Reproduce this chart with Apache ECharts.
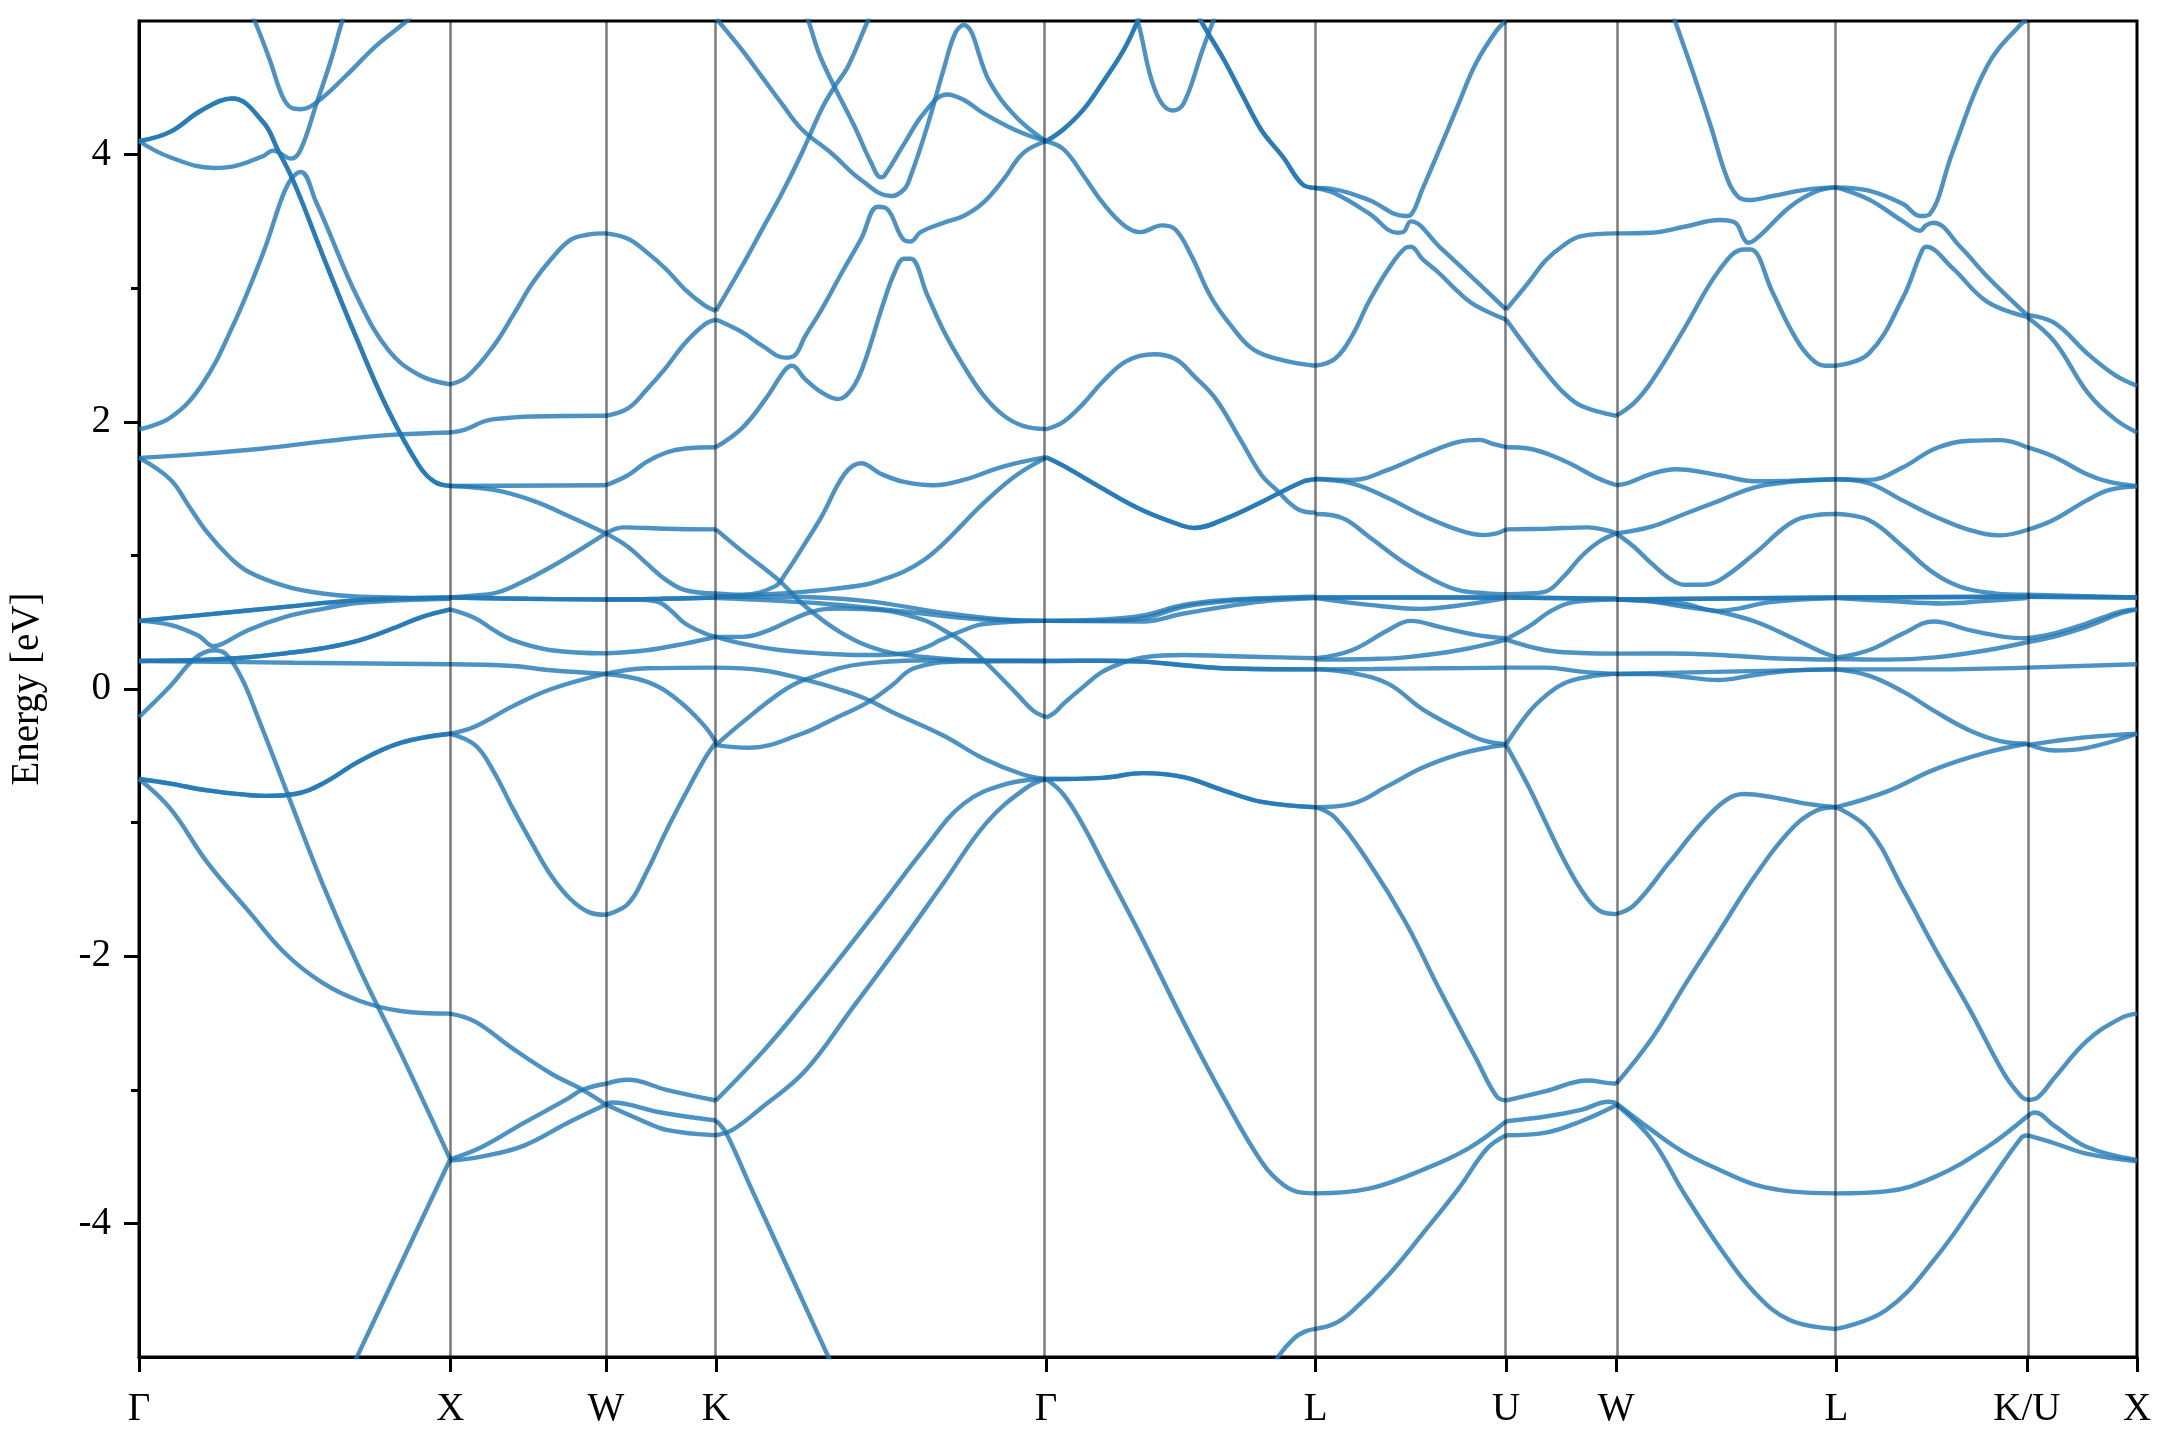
<!DOCTYPE html>
<html><head><meta charset="utf-8">
<script src="https://cdn.jsdelivr.net/npm/echarts@6/dist/echarts.min.js"></script>
<style>html,body{margin:0;padding:0;background:#fff}#c{width:2160px;height:1440px}</style>
</head><body><div id="c"></div>
<script>
// k-path high-symmetry positions (units of 2π/a) and labels
const kTicks = [0, 1, 1.5, 1.8536, 2.9142, 3.7802, 4.3926, 4.7462, 5.4533, 6.0657, 6.4193];
const kLabels = ['Γ','X','W','K','Γ','L','U','W','L','K/U','X'];
const yMajor = [-4, -2, 0, 2, 4];
const yMinor = [-3, -1, 1, 3];

// Each band: optional multiplicity, then [fraction along segment, energy eV]
const segGX = [
 [2,[0,4.1],[0.1,4.17],[0.2,4.33],[0.3,4.42],[0.4,4.24],[0.445,4.04],[0.5,3.78],[0.6,3.19],[0.7,2.62],[0.8,2.09],[0.9,1.67],[0.95,1.55],[1,1.52]],
 [[0,1.944],[0.1,2.03],[0.2,2.27],[0.3,2.71],[0.4,3.27],[0.46,3.68],[0.49,3.82],[0.52,3.87],[0.57,3.64],[0.6,3.48],[0.7,2.94],[0.8,2.54],[0.9,2.35],[1,2.28]],
 [[0,4.1],[0.1,3.98],[0.24,3.9],[0.3,3.91],[0.4,3.99],[0.43,4.03],[0.49,3.97],[0.52,4.04],[0.57,4.38],[0.617,4.71],[0.653,5.0],[0.67,5.1]],
 [[0.36,5.05],[0.372,5.0],[0.42,4.71],[0.46,4.44],[0.49,4.35],[0.52,4.34],[0.57,4.39],[0.665,4.59],[0.76,4.81],[0.86,5.0],[0.88,5.05]],
 [[0,1.73],[0.2,1.76],[0.4,1.8],[0.6,1.855],[0.8,1.9],[1,1.92]],
 [[0,1.73],[0.1,1.57],[0.16,1.37],[0.22,1.17],[0.29,0.99],[0.35,0.88],[0.47,0.77],[0.59,0.715],[0.71,0.69],[1,0.68]],
 [2,[0,0.51],[0.23,0.56],[0.47,0.615],[0.71,0.665],[1,0.685]],
 [[0,0.51],[0.1,0.48],[0.19,0.4],[0.24,0.32],[0.27,0.34],[0.35,0.44],[0.47,0.54],[0.59,0.6],[0.71,0.645],[1,0.675]],
 [2,[0,0.21],[0.22,0.22],[0.35,0.237],[0.47,0.267],[0.59,0.305],[0.71,0.366],[0.83,0.466],[0.91,0.54],[1,0.596]],
 [[0,0.21],[0.5,0.197],[1,0.185]],
 [[0,-0.21],[0.1,0.02],[0.18,0.23],[0.24,0.29],[0.28,0.26],[0.33,0.08],[0.38,-0.2],[0.47,-0.74],[0.59,-1.46],[0.71,-2.1],[0.84,-2.72],[1,-3.52]],
 [2,[0,-0.674],[0.1,-0.708],[0.22,-0.759],[0.35,-0.793],[0.41,-0.8],[0.5,-0.786],[0.59,-0.708],[0.71,-0.538],[0.84,-0.403],[1,-0.335]],
 [[0,-0.674],[0.1,-0.894],[0.22,-1.3],[0.35,-1.657],[0.47,-1.98],[0.59,-2.2],[0.71,-2.335],[0.84,-2.41],[1,-2.43]],
 [[0.68,-5.1],[1,-3.52]]
];
const segXW = [
 [[0,2.28],[0.11,2.34],[0.28,2.57],[0.41,2.81],[0.53,3.04],[0.65,3.22],[0.77,3.36],[0.88,3.4],[1,3.41]],
 [[0,1.92],[0.09,1.94],[0.21,2.0],[0.28,2.02],[0.53,2.04],[1,2.045]],
 [[0,1.52],[1,1.525]],
 [[0,1.52],[0.28,1.49],[0.53,1.41],[0.77,1.29],[1,1.165]],
 [[0,0.685],[0.16,0.7],[0.28,0.716],[0.4,0.766],[0.65,0.915],[1,1.165]],
 [2,[0,0.685],[0.5,0.675],[1,0.67]],
 [[0,0.596],[0.16,0.53],[0.28,0.44],[0.4,0.366],[0.65,0.29],[1,0.267]],
 [[0,0.185],[0.4,0.172],[0.65,0.14],[1,0.112]],
 [[0,-0.335],[0.16,-0.28],[0.4,-0.13],[0.65,0.0],[1,0.115]],
 [[0,-0.335],[0.16,-0.42],[0.28,-0.62],[0.4,-0.89],[0.53,-1.165],[0.65,-1.4],[0.77,-1.57],[0.89,-1.67],[1,-1.69]],
 [[0,-2.43],[0.16,-2.49],[0.4,-2.69],[0.65,-2.88],[0.85,-3.0],[1,-3.11]],
 [[0,-3.52],[0.2,-3.43],[0.47,-3.25],[0.75,-3.07],[0.85,-3.0],[1,-2.955]],
 [[0,-3.53],[0.2,-3.5],[0.47,-3.42],[0.75,-3.25],[1,-3.11]]
];
const segWK = [
 [[0,3.41],[0.2,3.37],[0.37,3.27],[0.55,3.14],[0.72,2.99],[0.9,2.87],[1,2.83]],
 [[0,2.045],[0.2,2.1],[0.37,2.24],[0.55,2.41],[0.72,2.59],[0.9,2.73],[1,2.765]],
 [[0,1.525],[0.2,1.6],[0.37,1.7],[0.55,1.77],[0.72,1.8],[1,1.81]],
 [[0,1.165],[0.2,1.065],[0.37,0.94],[0.55,0.815],[0.72,0.74],[1,0.715]],
 [[0,1.165],[0.16,1.21],[0.55,1.2],[1,1.195]],
 [2,[0,0.67],[0.5,0.675],[1,0.685]],
 [[0,0.67],[0.3,0.668],[0.48,0.65],[0.6,0.58],[0.72,0.49],[0.9,0.416],[1,0.39]],
 [[0,0.267],[0.37,0.29],[0.72,0.34],[1,0.39]],
 [[0,0.112],[0.37,0.055],[0.65,-0.08],[0.9,-0.28],[1,-0.4]],
 [[0,0.115],[0.37,0.155],[1,0.16]],
 [[0,-1.69],[0.2,-1.61],[0.37,-1.37],[0.55,-1.06],[0.72,-0.79],[0.9,-0.52],[1,-0.4]],
 [[0,-2.955],[0.2,-2.925],[0.55,-3.0],[1,-3.08]],
 [[0,-3.11],[0.05,-3.095],[0.5,-3.17],[1,-3.23]],
 [[0,-3.11],[0.3,-3.22],[0.55,-3.3],[1,-3.34]]
];
const segKG = [
 [[0,5.02],[0.08,4.78],[0.14,4.58],[0.2,4.38],[0.26,4.19],[0.35,4.01],[0.44,3.81],[0.53,3.69],[0.57,3.74],[0.59,3.84],[0.64,4.21],[0.69,4.64],[0.725,4.91],[0.75,4.97],[0.83,4.54],[0.91,4.28],[1,4.1]],
 [[0,2.83],[0.08,3.17],[0.14,3.44],[0.2,3.71],[0.26,4.01],[0.32,4.34],[0.36,4.51],[0.4,4.66],[0.46,5.0],[0.48,5.1]],
 [[0.27,5.05],[0.28,5.0],[0.32,4.71],[0.42,4.21],[0.47,3.94],[0.5,3.83],[0.51,3.84],[0.57,4.08],[0.63,4.31],[0.7,4.45],[0.75,4.41],[0.81,4.31],[0.91,4.18],[1,4.1]],
 [[0,2.765],[0.08,2.67],[0.14,2.57],[0.21,2.48],[0.24,2.5],[0.27,2.64],[0.32,2.84],[0.38,3.11],[0.44,3.37],[0.49,3.61],[0.52,3.59],[0.57,3.36],[0.59,3.35],[0.62,3.42],[0.69,3.49],[0.75,3.54],[0.81,3.64],[0.87,3.81],[0.93,4.01],[1,4.1]],
 [[0,1.81],[0.08,1.955],[0.15,2.17],[0.21,2.39],[0.23,2.42],[0.27,2.32],[0.32,2.22],[0.37,2.17],[0.41,2.24],[0.445,2.41],[0.505,2.87],[0.54,3.11],[0.57,3.22],[0.59,3.22],[0.64,2.95],[0.69,2.68],[0.75,2.42],[0.81,2.2],[0.87,2.05],[0.93,1.97],[1,1.945]],
 [[0,0.715],[0.08,0.705],[0.18,0.77],[0.21,0.86],[0.27,1.09],[0.32,1.29],[0.39,1.61],[0.44,1.69],[0.5,1.61],[0.57,1.55],[0.66,1.525],[0.75,1.565],[0.87,1.665],[1,1.735]],
 [[0,0.69],[0.2,0.716],[0.32,0.74],[0.45,0.78],[0.5,0.815],[0.57,0.88],[0.63,0.965],[0.69,1.09],[0.75,1.24],[0.81,1.39],[0.91,1.6],[1,1.73]],
 [[0,1.195],[0.08,1.03],[0.19,0.815],[0.27,0.62],[0.38,0.42],[0.5,0.29],[0.63,0.24],[0.81,0.212],[1,0.21]],
 [[0,0.69],[0.2,0.69],[0.45,0.66],[0.69,0.57],[0.87,0.52],[1,0.51]],
 [[0,0.68],[0.32,0.64],[0.57,0.58],[0.81,0.52],[1,0.51]],
 [[0,0.39],[0.08,0.39],[0.15,0.43],[0.29,0.578],[0.38,0.603],[0.5,0.59],[0.63,0.516],[0.69,0.44],[0.74,0.366],[0.81,0.217],[0.91,-0.033],[0.96,-0.16],[1,-0.21]],
 [[0,0.39],[0.08,0.34],[0.2,0.29],[0.32,0.266],[0.45,0.254],[0.57,0.266],[0.64,0.316],[0.68,0.366],[0.75,0.44],[0.81,0.486],[1,0.51]],
 [[0,-0.42],[0.08,-0.25],[0.2,-0.02],[0.27,0.07],[0.45,0.19],[0.69,0.215],[1,0.21]],
 [[0,-0.42],[0.1,-0.44],[0.26,-0.335],[0.36,-0.22],[0.46,-0.1],[0.53,0.02],[0.6,0.155],[0.74,0.205],[1,0.21]],
 [[0,0.16],[0.14,0.14],[0.27,0.07],[0.37,0.0],[0.45,-0.07],[0.54,-0.18],[0.69,-0.35],[0.81,-0.52],[0.93,-0.64],[1,-0.674]],
 [[0,-3.08],[0.14,-2.72],[0.26,-2.37],[0.38,-2.0],[0.5,-1.62],[0.63,-1.2],[0.75,-0.86],[0.88,-0.71],[1,-0.675]],
 [[0,-3.34],[0.05,-3.3],[0.14,-3.13],[0.27,-2.86],[0.41,-2.4],[0.56,-1.9],[0.69,-1.45],[0.82,-1.0],[0.94,-0.74],[1,-0.675]],
 [[0,-3.23],[0.03,-3.32],[0.1,-3.7],[0.2,-4.24],[0.3,-4.78],[0.35,-5.05]]
];
const segGL = [
 [2,[0,4.1],[0.065,4.19],[0.14,4.34],[0.21,4.54],[0.29,4.79],[0.34,5.0],[0.36,5.1]],
 [[0.32,5.08],[0.34,5.0],[0.405,4.48],[0.47,4.33],[0.51,4.38],[0.58,4.78],[0.61,4.945],[0.63,5.05]],
 [2,[0.56,5.08],[0.575,5.0],[0.66,4.71],[0.73,4.44],[0.8,4.18],[0.88,3.98],[0.95,3.78],[1,3.75]],
 [[0,4.1],[0.065,4.04],[0.14,3.84],[0.21,3.64],[0.29,3.47],[0.35,3.42],[0.43,3.47],[0.48,3.44],[0.54,3.24],[0.61,2.94],[0.69,2.71],[0.77,2.54],[0.88,2.46],[1,2.42]],
 [[0,1.944],[0.065,2.0],[0.14,2.14],[0.21,2.3],[0.3,2.456],[0.4,2.506],[0.48,2.47],[0.55,2.34],[0.63,2.17],[0.72,1.87],[0.8,1.6],[0.85,1.5],[0.94,1.34],[1,1.32]],
 [2,[0,1.735],[0.065,1.67],[0.21,1.5],[0.36,1.336],[0.51,1.22],[0.55,1.205],[0.66,1.27],[0.8,1.4],[0.95,1.55],[1,1.57]],
 [[0,0.51],[0.21,0.51],[0.36,0.53],[0.51,0.615],[0.66,0.655],[0.8,0.675],[1,0.685]],
 [[0,0.51],[0.36,0.505],[0.51,0.565],[0.66,0.615],[0.8,0.655],[1,0.68]],
 [[0,0.51],[0.21,0.52],[0.36,0.55],[0.51,0.63],[0.66,0.665],[1,0.69]],
 [[0,-0.215],[0.03,-0.18],[0.065,-0.11],[0.14,0.02],[0.21,0.13],[0.29,0.2],[0.36,0.237],[0.51,0.254],[0.66,0.247],[0.8,0.24],[1,0.23]],
 [2,[0,0.21],[0.2,0.212],[0.36,0.205],[0.5,0.18],[0.66,0.155],[1,0.147]],
 [2,[0,-0.674],[0.21,-0.665],[0.36,-0.63],[0.51,-0.66],[0.66,-0.76],[0.8,-0.845],[1,-0.885]],
 [[0,-0.674],[0.065,-0.79],[0.14,-1.03],[0.21,-1.3],[0.36,-1.88],[0.51,-2.49],[0.66,-3.06],[0.8,-3.54],[0.88,-3.71],[0.95,-3.77],[1,-3.775]],
 [[0.85,-5.06],[0.86,-5.0],[0.92,-4.86],[0.96,-4.81],[1,-4.79]]
];
const segLU = [
 [[0,3.75],[0.1,3.74],[0.28,3.66],[0.47,3.54],[0.5,3.55],[0.56,3.74],[0.65,4.04],[0.75,4.38],[0.84,4.68],[0.95,4.93],[1,5.0]],
 [[0,3.75],[0.1,3.71],[0.28,3.56],[0.43,3.415],[0.46,3.42],[0.5,3.5],[0.65,3.31],[0.8,3.11],[1,2.84]],
 [[0,2.42],[0.1,2.47],[0.19,2.64],[0.28,2.9],[0.38,3.14],[0.47,3.3],[0.5,3.31],[0.56,3.22],[0.65,3.11],[0.75,2.97],[0.84,2.87],[1,2.765]],
 [[0,1.575],[0.19,1.565],[0.38,1.64],[0.56,1.75],[0.75,1.85],[0.86,1.865],[0.93,1.835],[1,1.81]],
 [[0,1.57],[0.19,1.54],[0.38,1.43],[0.56,1.3],[0.75,1.19],[0.88,1.152],[0.95,1.165],[1,1.195]],
 [[0,1.31],[0.14,1.28],[0.28,1.14],[0.47,0.94],[0.62,0.815],[0.75,0.74],[0.9,0.716],[1,0.71]],
 [2,[0,0.685],[1,0.685]],
 [[0,0.68],[0.28,0.63],[0.55,0.6],[0.75,0.625],[1,0.68]],
 [[0,0.23],[0.19,0.29],[0.38,0.44],[0.5,0.51],[0.65,0.465],[0.84,0.405],[1,0.38]],
 [[0,0.22],[0.3,0.225],[0.47,0.237],[0.75,0.29],[1,0.37]],
 [[0,0.147],[0.3,0.15],[0.65,0.155],[1,0.16]],
 [[0,0.15],[0.19,0.12],[0.38,0.04],[0.56,-0.15],[0.75,-0.3],[0.88,-0.385],[1,-0.413]],
 [[0,-0.885],[0.19,-0.86],[0.38,-0.725],[0.56,-0.59],[0.75,-0.49],[0.91,-0.437],[1,-0.42]],
 [[0,-0.885],[0.1,-0.96],[0.28,-1.3],[0.47,-1.74],[0.65,-2.25],[0.84,-2.76],[0.95,-3.05],[1,-3.08]],
 [[0,-3.775],[0.28,-3.74],[0.56,-3.6],[0.8,-3.44],[1,-3.235]],
 [[0,-4.79],[0.1,-4.75],[0.19,-4.66],[0.38,-4.39],[0.56,-4.08],[0.75,-3.74],[0.9,-3.44],[1,-3.34]]
];
const segUW = [
 [[0,2.84],[0.2,3.04],[0.36,3.21],[0.52,3.32],[0.68,3.39],[1,3.41]],
 [[0,2.765],[0.2,2.54],[0.36,2.37],[0.52,2.22],[0.68,2.12],[1,2.045]],
 [[0,1.81],[0.2,1.8],[0.52,1.71],[0.84,1.575],[1,1.525]],
 [[0,1.195],[0.36,1.2],[0.74,1.21],[0.9,1.19],[1,1.165]],
 [[0,0.71],[0.2,0.715],[0.36,0.73],[0.52,0.84],[0.68,0.99],[0.84,1.1],[1,1.165]],
 [2,[0,0.685],[1,0.675]],
 [[0,0.375],[0.2,0.465],[0.42,0.59],[0.61,0.65],[1,0.67]],
 [[0,0.37],[0.36,0.29],[0.68,0.27],[1,0.265]],
 [[0,0.16],[0.36,0.16],[0.68,0.13],[1,0.112]],
 [[0,-0.413],[0.2,-0.18],[0.36,-0.05],[0.52,0.04],[0.74,0.09],[1,0.115]],
 [[0,-0.42],[0.2,-0.725],[0.36,-1.0],[0.52,-1.27],[0.68,-1.5],[0.84,-1.655],[1,-1.685]],
 [[0,-3.08],[0.36,-3.01],[0.74,-2.93],[0.93,-2.95],[1,-2.955]],
 [[0,-3.235],[0.36,-3.2],[0.68,-3.15],[0.93,-3.09],[1,-3.1]],
 [[0,-3.34],[0.36,-3.32],[0.68,-3.235],[1,-3.115]]
];
const segWL = [
 [[0.255,5.05],[0.267,5.0],[0.35,4.61],[0.43,4.21],[0.5,3.84],[0.55,3.69],[0.6,3.66],[0.71,3.69],[0.87,3.74],[1,3.755]],
 [[0,3.41],[0.16,3.415],[0.31,3.46],[0.47,3.51],[0.54,3.49],[0.58,3.37],[0.6,3.34],[0.65,3.39],[0.79,3.61],[0.91,3.725],[1,3.755]],
 [[0,2.045],[0.08,2.14],[0.16,2.3],[0.31,2.7],[0.47,3.14],[0.58,3.29],[0.61,3.29],[0.71,2.97],[0.79,2.7],[0.87,2.5],[0.95,2.42],[1,2.42]],
 [[0,1.525],[0.05,1.54],[0.16,1.61],[0.27,1.645],[0.47,1.6],[0.63,1.555],[0.79,1.56],[1,1.57]],
 [[0,1.165],[0.16,1.215],[0.31,1.31],[0.47,1.41],[0.63,1.51],[0.79,1.55],[1,1.57]],
 [[0,1.165],[0.08,1.065],[0.16,0.94],[0.24,0.83],[0.31,0.78],[0.39,0.78],[0.47,0.815],[0.63,1.015],[0.79,1.24],[0.9,1.3],[1,1.31]],
 [2,[0,0.67],[1,0.685]],
 [[0,0.67],[0.16,0.655],[0.31,0.615],[0.46,0.58],[0.63,0.505],[0.79,0.39],[0.95,0.265],[1,0.24]],
 [[0,0.67],[0.3,0.64],[0.46,0.585],[0.55,0.6],[0.7,0.65],[1,0.68]],
 [[0,0.265],[0.24,0.266],[0.47,0.255],[0.71,0.23],[1,0.22]],
 [[0,0.112],[0.16,0.112],[0.31,0.09],[0.46,0.067],[0.63,0.105],[0.79,0.137],[1,0.147]],
 [[0,0.112],[0.5,0.13],[1,0.147]],
 [[0,-1.685],[0.08,-1.62],[0.24,-1.3],[0.39,-1.0],[0.5,-0.83],[0.58,-0.786],[0.71,-0.81],[0.87,-0.86],[1,-0.885]],
 [[0,-2.955],[0.16,-2.62],[0.31,-2.22],[0.47,-1.81],[0.63,-1.4],[0.79,-1.06],[0.91,-0.91],[1,-0.885]],
 [[0,-3.1],[0.16,-3.3],[0.31,-3.47],[0.47,-3.6],[0.63,-3.71],[0.79,-3.76],[1,-3.775]],
 [[0,-3.11],[0.16,-3.37],[0.31,-3.78],[0.47,-4.18],[0.63,-4.52],[0.79,-4.725],[1,-4.79]]
];
const segLK = [
 [[0,3.755],[0.17,3.73],[0.35,3.63],[0.44,3.54],[0.49,3.555],[0.61,4.02],[0.79,4.66],[0.97,4.98],[1,5.0]],
 [[0,3.755],[0.17,3.665],[0.35,3.5],[0.44,3.43],[0.47,3.47],[0.51,3.49],[0.65,3.31],[0.79,3.09],[1,2.8]],
 [[0,2.42],[0.17,2.51],[0.35,2.93],[0.44,3.25],[0.47,3.31],[0.61,3.15],[0.79,2.9],[1,2.785]],
 [[0,1.57],[0.17,1.565],[0.35,1.66],[0.52,1.8],[0.7,1.858],[0.86,1.863],[1,1.81]],
 [[0,1.57],[0.17,1.54],[0.35,1.41],[0.52,1.29],[0.7,1.19],[0.86,1.15],[1,1.19]],
 [[0,1.31],[0.17,1.265],[0.35,1.065],[0.49,0.89],[0.65,0.765],[0.83,0.716],[1,0.705]],
 [2,[0,0.685],[1,0.69]],
 [[0,0.68],[0.26,0.66],[0.56,0.64],[0.79,0.66],[1,0.68]],
 [[0,0.235],[0.17,0.29],[0.35,0.415],[0.51,0.505],[0.7,0.44],[0.88,0.39],[1,0.38]],
 [[0,0.225],[0.26,0.22],[0.52,0.237],[0.79,0.29],[1,0.35]],
 [[0,0.147],[0.5,0.147],[1,0.16]],
 [[0,0.147],[0.17,0.1],[0.35,-0.02],[0.52,-0.17],[0.7,-0.31],[0.86,-0.39],[1,-0.41]],
 [[0,-0.885],[0.26,-0.77],[0.52,-0.6],[0.79,-0.475],[1,-0.41]],
 [[0,-0.885],[0.17,-1.05],[0.35,-1.5],[0.52,-1.95],[0.7,-2.4],[0.88,-2.88],[0.97,-3.05],[1,-3.075]],
 [[0,-3.775],[0.26,-3.76],[0.52,-3.65],[0.79,-3.43],[1,-3.2]],
 [[0,-4.79],[0.26,-4.65],[0.52,-4.26],[0.79,-3.72],[0.97,-3.36],[1,-3.34]]
];
const segKX = [
 [[0,2.8],[0.25,2.74],[0.55,2.51],[0.8,2.35],[1,2.27]],
 [[0,2.785],[0.25,2.6],[0.55,2.22],[0.8,2.02],[1,1.92]],
 [[0,1.81],[0.24,1.74],[0.54,1.61],[0.75,1.55],[1,1.52]],
 [[0,1.19],[0.24,1.265],[0.54,1.41],[0.75,1.49],[1,1.515]],
 [[0,0.705],[1,0.685]],
 [2,[0,0.69],[1,0.685]],
 [[0,0.38],[0.24,0.415],[0.54,0.49],[0.85,0.58],[1,0.596]],
 [[0,0.35],[0.24,0.39],[0.54,0.465],[0.85,0.565],[1,0.596]],
 [[0,0.16],[1,0.185]],
 [[0,-0.41],[0.25,-0.46],[0.55,-0.44],[1,-0.335]],
 [[0,-0.42],[0.25,-0.39],[0.55,-0.36],[1,-0.335]],
 [[0,-3.075],[0.1,-3.055],[0.25,-2.91],[0.55,-2.63],[0.85,-2.465],[1,-2.43]],
 [[0,-3.2],[0.07,-3.17],[0.25,-3.27],[0.55,-3.43],[1,-3.525]],
 [[0,-3.34],[0.25,-3.4],[0.55,-3.48],[1,-3.535]]
];
const segments = [segGX, segXW, segWK, segKG, segGL, segLU, segUW, segWL, segLK, segKX];

const FONT = "'Liberation Serif','DejaVu Serif',serif";
const series = [];
segments.forEach((seg, s) => {
  const k0 = kTicks[s], k1 = kTicks[s + 1];
  seg.forEach(band => {
    let mult = 1, pts = band;
    if (typeof band[0] === 'number') { mult = band[0]; pts = band.slice(1); }
    const data = pts.map(p => [k0 + p[0] * (k1 - k0), p[1]]);
    for (let m = 0; m < mult; m++) {
      series.push({
        type: 'line', data: data, symbol: 'none', showSymbol: false,
        smooth: 0.4, silent: true, z: 3,
        lineStyle: { color: 'rgba(31,119,180,0.8)', width: 4.4 }
      });
    }
  });
});
series.push({
  type: 'line', data: [[0, -20]], symbol: 'none', silent: true, z: 1,
  lineStyle: { width: 0 },
  markLine: {
    silent: true, symbol: ['none', 'none'], label: { show: false },
    lineStyle: { color: 'rgba(0,0,0,0.5)', width: 2.6, type: 'solid' },
    data: kTicks.slice(1, -1).map(k => ({ xAxis: k }))
  }
});

function kName(v) {
  let best = 0;
  for (let i = 1; i < kTicks.length; i++) if (Math.abs(kTicks[i] - v) < Math.abs(kTicks[best] - v)) best = i;
  return kLabels[best];
}

const chart = echarts.init(document.getElementById('c'), null, { renderer: 'canvas' });
chart.setOption({
  animation: false,
  backgroundColor: '#fff',
  grid: { left: 136, right: 23, top: 21, bottom: 83, show: true, borderColor: '#000', borderWidth: 3, backgroundColor: 'transparent' },
  xAxis: {
    type: 'value', min: 0, max: kTicks[kTicks.length - 1],
    axisLine: { show: true, onZero: false, lineStyle: { color: '#000', width: 3 } },
    axisTick: { show: true, customValues: kTicks, length: 15, lineStyle: { color: '#000', width: 3 } },
    axisLabel: { show: true, customValues: kTicks, formatter: v => kName(v), fontFamily: FONT, fontSize: 39, color: '#000', margin: 33 },
    splitLine: { show: false }
  },
  yAxis: [{
    type: 'value', min: -5, max: 5, position: 'left',
    axisLine: { show: true, onZero: false, lineStyle: { color: '#000', width: 3 } },
    axisTick: { show: true, customValues: yMajor, length: 15, lineStyle: { color: '#000', width: 3 } },
    axisLabel: { show: true, customValues: yMajor, fontFamily: FONT, fontSize: 39, color: '#000', margin: 28 },
    splitLine: { show: false },
    name: 'Energy [eV]', nameLocation: 'middle', nameGap: 92,
    nameTextStyle: { fontFamily: FONT, fontSize: 39, color: '#000' }
  }, {
    type: 'value', min: -5, max: 5, position: 'left', offset: 0,
    axisLine: { show: false, onZero: false },
    axisTick: { show: true, customValues: yMinor, length: 8, lineStyle: { color: '#000', width: 3 } },
    axisLabel: { show: false },
    splitLine: { show: false }
  }],
  series: series
});
</script></body></html>
